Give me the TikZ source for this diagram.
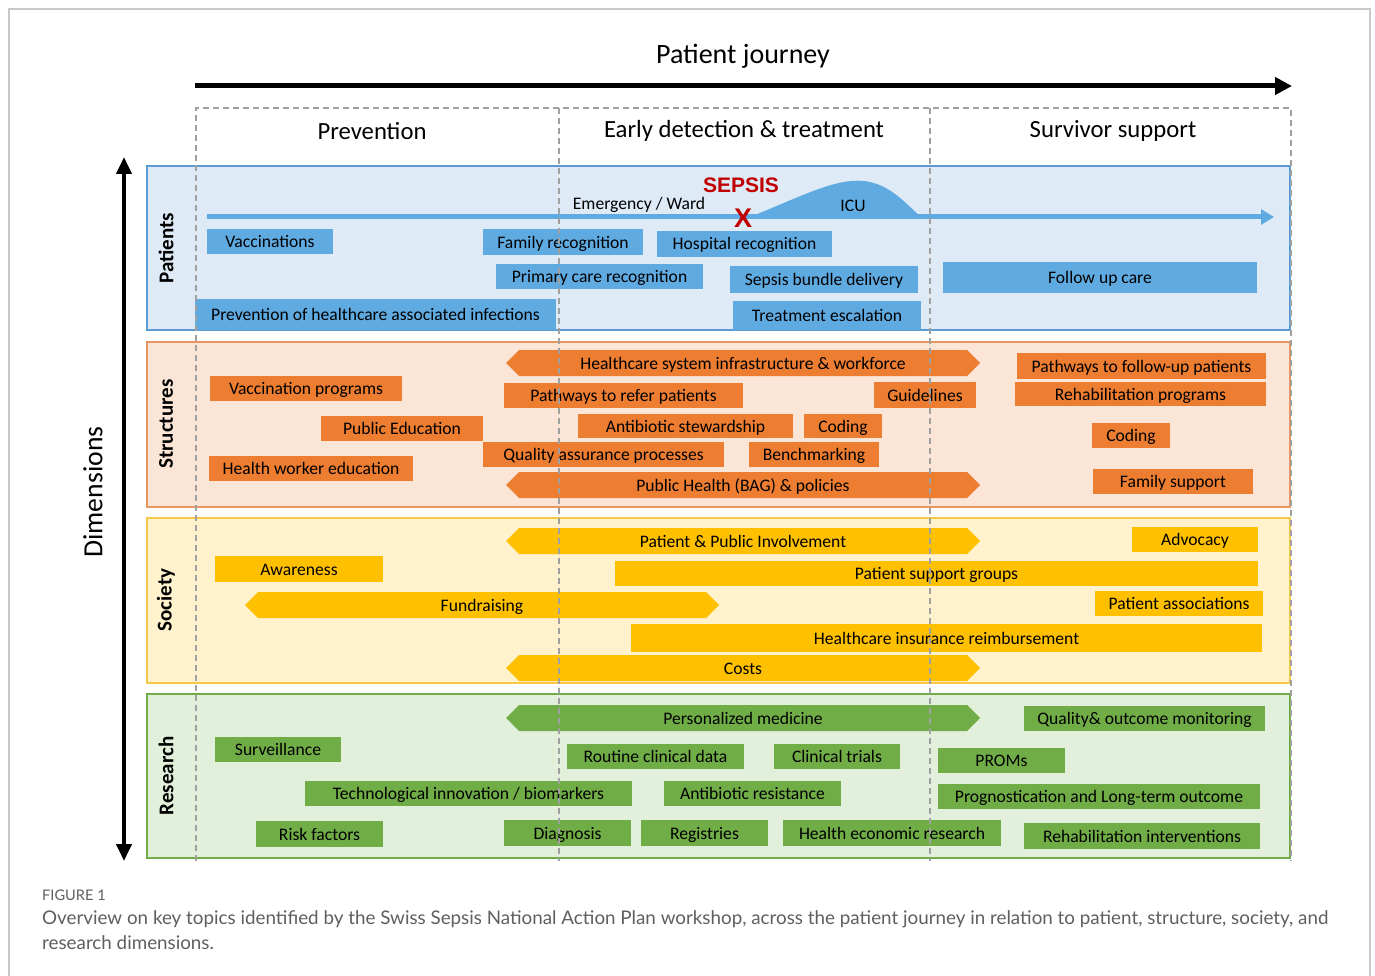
\documentclass[tikz,border=0pt]{standalone}
\usepackage{fontspec}
\setmainfont{Carlito}
\newfontfamily\capfont{Lato}
\newfontfamily\arialfont{Liberation Sans}
\usetikzlibrary{arrows.meta}
\definecolor{pblue}{RGB}{96,170,226}
\definecolor{pbandfill}{RGB}{222,234,246}
\definecolor{pbandline}{RGB}{91,155,213}
\definecolor{sorange}{RGB}{237,125,49}
\definecolor{sbandfill}{RGB}{251,229,214}
\definecolor{sbandline}{RGB}{232,150,95}
\definecolor{yyellow}{RGB}{255,192,0}
\definecolor{ybandfill}{RGB}{255,242,204}
\definecolor{ybandline}{RGB}{246,200,70}
\definecolor{rgreen}{RGB}{112,173,71}
\definecolor{rbandfill}{RGB}{226,239,218}
\definecolor{rbandline}{RGB}{112,173,71}
\definecolor{sepsisred}{RGB}{192,0,0}
\definecolor{framegray}{RGB}{200,200,200}
\definecolor{dashgray}{RGB}{160,160,160}
\definecolor{capgray}{RGB}{95,95,95}
\tikzset{
  tbox/.style={rectangle, inner sep=0pt, text=black, text height=14pt, text depth=2pt, font=\fontsize{17.6}{19}\selectfont},
  tlbl/.style={inner sep=0pt, text=black, text height=14pt, text depth=2pt, font=\fontsize{17.6}{19}\selectfont},
  bandlbl/.style={rotate=90, font=\fontsize{21}{23}\selectfont\bfseries},
  colhead/.style={font=\fontsize{24.7}{26}\selectfont},
  colsep/.style={dashgray, line width=1.3pt, dash pattern=on 6pt off 4pt},
}
\newcommand\bx[7]{\node[tbox,fill=#6,minimum width=#4pt,minimum height=#5pt] (#1) at (#2,#3) {#7};}
\newcommand\hx[6]{\fill[#5] (#2,{#4+13}) -- ({#2+13},#4) -- ({#3-13},#4) -- (#3,{#4+13}) -- ({#3-13},{#4+26}) -- ({#2+13},{#4+26}) -- cycle;
  \node[tlbl] (#1) at ({(#2+#3)/2},{#4+13}) {#6};}
\begin{document}
\begin{tikzpicture}[x=1pt,y=-1pt]
\useasboundingbox (0,0) rectangle (1375,976);
\fill[white] (0,0) rectangle (1375,976);
\draw[framegray, line width=1.3pt] (9,9) rectangle (1370,1010);

% title and journey arrow
\node[font=\fontsize{28}{30}\selectfont] (title) at (743,56) {Patient journey};
\coordinate (ja) at (195,86);
\coordinate (jb) at (1292,86);
\draw[line width=5pt, -{Triangle[width=17pt,length=17pt]}] (ja) -- (jb);

% column headers
\node[colhead] (hprev) at (372,131) {Prevention};
\node[colhead] (hearly) at (744,131) {Early detection \& treatment};
\node[colhead] (hsurv) at (1113,131) {Survivor support};

% dimensions arrow
\coordinate (da) at (124,861);
\coordinate (db) at (124,157);
\draw[line width=4pt, {Triangle[width=15pt,length=17pt]}-{Triangle[width=15pt,length=17pt]}] (da) -- (db);
\node[rotate=90, font=\fontsize{27.7}{29}\selectfont] (dim) at (93,492) {Dimensions};

% bands
\draw[fill=pbandfill, draw=pbandline, line width=1.5pt] (147,166) rectangle (1290,330);
\draw[fill=sbandfill, draw=sbandline, line width=1.5pt] (147,342) rectangle (1290,507);
\draw[fill=ybandfill, draw=ybandline, line width=1.5pt] (147,518) rectangle (1290,683);
\draw[fill=rbandfill, draw=rbandline, line width=1.5pt] (147,694) rectangle (1290,858);
\node[bandlbl] (lpat) at (166,248) {Patients};
\node[bandlbl] (lstr) at (166,424) {Structures};
\node[bandlbl] (lsoc) at (166,600) {Society};
\node[bandlbl] (lres) at (166,776) {Research};

% patient timeline
\fill[pblue] (750,217) .. controls (800,197) and (835,178) .. (864,181) .. controls (890,184) and (905,203) .. (921,217) -- cycle;
\coordinate (ta) at (207,217);
\coordinate (tb) at (1274,217);
\draw[pblue, line width=5pt, -{Triangle[width=15pt,length=13pt]}] (ta) -- (tb);
\node[font=\fontsize{17.6}{19}\selectfont] (icu) at (853,206) {ICU};
\node[font=\fontsize{17.6}{19}\selectfont] (ew) at (639,205) {Emergency / Ward};
\node[font=\arialfont\fontsize{21}{22}\selectfont\bfseries, text=sepsisred] (sepsis) at (741,185) {SEPSIS};
\node[font=\arialfont\fontsize{27}{28}\selectfont\bfseries, text=sepsisred] (x) at (743,218) {X};

% patients boxes
\bx{vacc}{270}{241.5}{126}{25}{pblue}{Vaccinations}
\bx{famrec}{563}{242}{160}{26}{pblue}{Family recognition}
\bx{hosprec}{744.5}{244}{175}{26}{pblue}{Hospital recognition}
\bx{primrec}{599.5}{276.5}{207}{25}{pblue}{Primary care recognition}
\bx{bundle}{824}{279.5}{188}{27}{pblue}{Sepsis bundle delivery}
\bx{followup}{1100}{277.5}{314}{31}{pblue}{Follow up care}
\bx{phai}{375.5}{314.5}{361}{31}{pblue}{Prevention of healthcare associated infections}
\bx{escal}{827}{315.5}{188}{29}{pblue}{Treatment escalation}

% structures
\hx{hsiw}{506}{980}{350}{sorange}{Healthcare system infrastructure \& workforce}
\bx{vaccprog}{306}{388.5}{192}{25}{sorange}{Vaccination programs}
\bx{pathref}{623.5}{395.5}{239}{25}{sorange}{Pathways to refer patients}
\bx{guide}{925}{395}{102}{26}{sorange}{Guidelines}
\bx{pathfu}{1141.5}{366}{249}{26}{sorange}{Pathways to follow-up patients}
\bx{rehab}{1140.5}{394}{251}{24}{sorange}{Rehabilitation programs}
\bx{pubedu}{402}{428.5}{162}{25}{sorange}{Public Education}
\bx{abx}{685.5}{426}{215}{24}{sorange}{Antibiotic stewardship}
\bx{codinga}{843}{426}{78}{24}{sorange}{Coding}
\bx{codingb}{1131}{435.5}{78}{25}{sorange}{Coding}
\bx{qap}{603.5}{454.5}{241}{25}{sorange}{Quality assurance processes}
\bx{bench}{814}{454.5}{130}{25}{sorange}{Benchmarking}
\bx{hwe}{311}{468.5}{204}{25}{sorange}{Health worker education}
\hx{phbag}{506}{980}{472}{sorange}{Public Health (BAG) \& policies}
\bx{famsup}{1173}{481.5}{160}{25}{sorange}{Family support}

% society
\hx{ppi}{506}{980}{528}{yyellow}{Patient \& Public Involvement}
\bx{advocacy}{1195}{539.5}{126}{25}{yyellow}{Advocacy}
\bx{awareness}{299}{569}{168}{26}{yyellow}{Awareness}
\bx{psg}{936.5}{573.5}{643}{25}{yyellow}{Patient support groups}
\hx{fundr}{245}{719}{592}{yyellow}{Fundraising}
\bx{passoc}{1179}{603.5}{168}{25}{yyellow}{Patient associations}
\bx{hir}{946.5}{638}{631}{28}{yyellow}{Healthcare insurance reimbursement}
\hx{costs}{506}{980}{655}{yyellow}{Costs}

% research
\hx{persmed}{506}{980}{705}{rgreen}{Personalized medicine}
\bx{qom}{1144.5}{718.5}{241}{25}{rgreen}{Quality\& outcome monitoring}
\bx{surv}{278}{749.5}{126}{25}{rgreen}{Surveillance}
\bx{rcd}{655.5}{756.5}{177}{25}{rgreen}{Routine clinical data}
\bx{ct}{837}{756.5}{126}{25}{rgreen}{Clinical trials}
\bx{proms}{1001.5}{760.5}{127}{25}{rgreen}{PROMs}
\bx{tib}{468.5}{793.5}{327}{25}{rgreen}{Technological innovation / biomarkers}
\bx{abr}{752.5}{793.5}{177}{25}{rgreen}{Antibiotic resistance}
\bx{prog}{1099}{796.5}{322}{25}{rgreen}{Prognostication and Long-term outcome}
\bx{risk}{319.5}{834}{127}{26}{rgreen}{Risk factors}
\bx{diag}{567.5}{833}{127}{26}{rgreen}{Diagnosis}
\bx{reg}{704.5}{833}{127}{26}{rgreen}{Registries}
\bx{her}{892}{833}{218}{26}{rgreen}{Health economic research}
\bx{rehabint}{1142}{836}{236}{26}{rgreen}{Rehabilitation interventions}

% column separators (dashed, on top)
\draw[colsep] (196,861) -- (196,108) -- (1291,108) -- (1291,861);
\draw[colsep] (559,108) -- (559,861);
\draw[colsep] (930,108) -- (930,861);

% caption
\node[anchor=west, inner sep=0pt, font=\capfont\fontsize{14.6}{16}\selectfont, text=capgray] (figno) at (42,895) {FIGURE 1};
\node[anchor=west, inner sep=0pt, font=\capfont\fontsize{18.8}{20}\selectfont, text=capgray] (capa) at (42,919) {Overview on key topics identified by the Swiss Sepsis National Action Plan workshop, across the patient journey in relation to patient, structure, society, and};
\node[anchor=west, inner sep=0pt, font=\capfont\fontsize{18.8}{20}\selectfont, text=capgray] (capb) at (42,943) {research dimensions.};
\end{tikzpicture}
\end{document}
